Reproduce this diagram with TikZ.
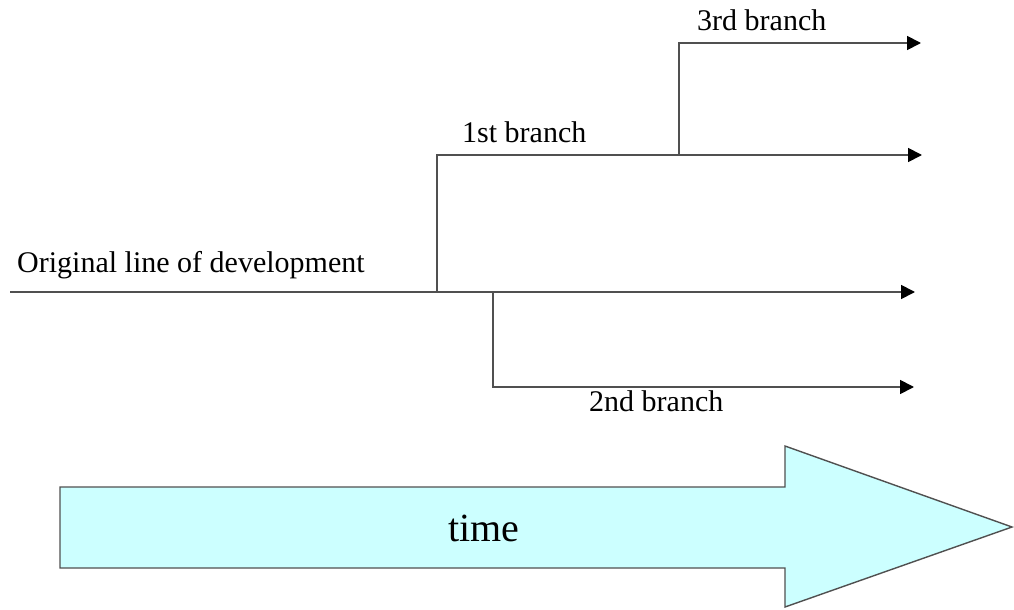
\documentclass[tikz,border=0pt]{standalone}
\usepackage{fontspec}
\setmainfont{Liberation Serif}
\usetikzlibrary{arrows.meta}
\definecolor{lineGray}{HTML}{505050}
\definecolor{timeFill}{HTML}{CCFFFF}
\begin{document}
\begin{tikzpicture}[x=1pt,y=-1pt,
  branchline/.style={draw=lineGray, line width=1.8pt, -{Triangle[length=14pt,width=14pt,fill=black,color=black]}},
  lbl/.style={font=\fontsize{30}{36}\selectfont, inner sep=0pt, text=black},
  biglbl/.style={font=\fontsize{40}{48}\selectfont, inner sep=0pt, text=black}]
\useasboundingbox (0,0) rectangle (1014,610);
% coordinates
\coordinate (o0) at (10,292);
\coordinate (o1) at (915,292);
\coordinate (b1) at (437,292);
\coordinate (b1t) at (437,155);
\coordinate (b1e) at (922,155);
\coordinate (b3) at (679,155);
\coordinate (b3t) at (679,43);
\coordinate (b3e) at (921,43);
\coordinate (b2) at (493,292);
\coordinate (b2b) at (493,387);
\coordinate (b2e) at (914,387);
% lines
\draw[branchline] (o0) -- (o1);
\draw[branchline] (b1) -- (b1t) -- (b1e);
\draw[branchline] (b3) -- (b3t) -- (b3e);
\draw[branchline] (b2) -- (b2b) -- (b2e);
% labels
\node[lbl, anchor=base west] (orig) at (17,272) {Original line of development};
\node[lbl, anchor=base west] (first) at (462,142) {1st branch};
\node[lbl, anchor=base west] (third) at (697,31) {3rd branch};
\node[lbl, anchor=base west] (second) at (589,411) {2nd branch};
% big time arrow
\draw[fill=timeFill, draw=lineGray, line width=1.4pt, line join=miter]
  (60,487) -- (785,487) -- (785,446) -- (1012,527) -- (785,607) -- (785,568) -- (60,568) -- cycle;
\node[biglbl, anchor=base] (time) at (484,541) {time};
\end{tikzpicture}
\end{document}
